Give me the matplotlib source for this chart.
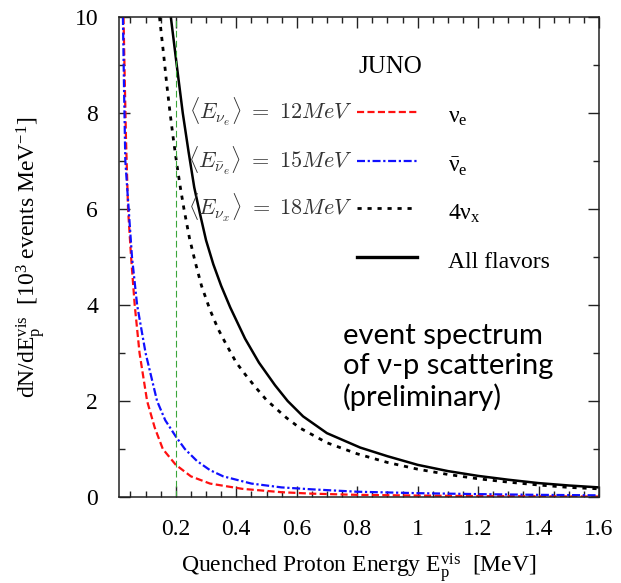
import numpy as np
import matplotlib
matplotlib.use('Agg')
import matplotlib.pyplot as plt
from matplotlib.ticker import MultipleLocator, FuncFormatter

plt.rcParams['font.family'] = ['Liberation Serif', 'DejaVu Serif']
plt.rcParams['mathtext.fontset'] = 'custom'
plt.rcParams['mathtext.rm'] = 'Liberation Serif'
plt.rcParams['mathtext.it'] = 'Liberation Serif:italic'
plt.rcParams['mathtext.bf'] = 'Liberation Serif:bold'

# values (x in MeV, y in 10^3 events / MeV)
x_nue = [0.027, 0.031, 0.035, 0.042, 0.052, 0.064, 0.080, 0.105, 0.130, 0.157,
         0.200, 0.250, 0.313, 0.420, 0.550, 0.650, 0.800, 1.000, 1.200, 1.600]
y_nue = [10.0, 8.7, 7.5, 6.0, 5.0, 4.0, 3.0, 2.0, 1.45, 1.0,
         0.67, 0.43, 0.28, 0.17, 0.10, 0.07, 0.045, 0.03, 0.02, 0.01]

x_nuebar = [0.025, 0.029, 0.033, 0.044, 0.055, 0.072, 0.100, 0.138, 0.165, 0.200,
            0.230, 0.270, 0.313, 0.357, 0.450, 0.550, 0.650, 0.800, 1.000, 1.200,
            1.400, 1.600]
y_nuebar = [10.0, 8.4, 7.0, 6.0, 5.0, 4.0, 3.0, 2.0, 1.6, 1.26,
            1.0, 0.75, 0.56, 0.43, 0.28, 0.20, 0.16, 0.11, 0.08, 0.06,
            0.045, 0.035]

x_nux = [0.146, 0.160, 0.170, 0.181, 0.192, 0.203, 0.215, 0.227, 0.245, 0.264,
         0.285, 0.313, 0.340, 0.365, 0.400, 0.430, 0.462, 0.500, 0.566, 0.610,
         0.700, 0.800, 0.900, 1.000, 1.100, 1.200, 1.300, 1.400, 1.500, 1.600]
y_nux = [10.0, 9.2, 8.6, 8.0, 7.45, 6.95, 6.45, 6.0, 5.4, 4.9,
         4.4, 3.9, 3.5, 3.2, 2.8, 2.55, 2.3, 2.02, 1.65, 1.44,
         1.13, 0.90, 0.72, 0.58, 0.47, 0.38, 0.31, 0.25, 0.20, 0.17]

x_all = [0.1835, 0.203, 0.223, 0.242, 0.261, 0.280, 0.300, 0.324, 0.350, 0.380,
         0.429, 0.475, 0.528, 0.570, 0.621, 0.700, 0.810, 0.900, 1.000, 1.100,
         1.200, 1.300, 1.400, 1.500, 1.600]
y_all = [10.0, 9.0, 8.0, 7.2, 6.45, 5.9, 5.35, 4.85, 4.4, 3.95,
         3.3, 2.8, 2.33, 2.0, 1.68, 1.33, 1.03, 0.85, 0.67, 0.54,
         0.44, 0.36, 0.29, 0.24, 0.20]

cut_energy = 0.2

red_style = dict(color='#ff1010', lw=1.6, ls=(0, (3.2, 1.5)))
blue_style = dict(color='#1010ff', lw=1.6, ls=(0, (3.6, 1.2, 1.0, 1.2)))
dot_style = dict(color='black', lw=2.0, ls=(0, (1.5, 2.1)))
all_style = dict(color='black', lw=1.8, ls='-')

fig = plt.figure(figsize=(6.21, 5.83), dpi=100)
ax = fig.add_axes([0.1916, 0.1475, 0.773, 0.8233])

ax.plot(x_nue, y_nue, **red_style)
ax.plot(x_nuebar, y_nuebar, **blue_style)
ax.plot(x_nux, y_nux, **dot_style)
ax.plot(x_all, y_all, **all_style)
ax.plot([cut_energy, cut_energy], [0, 10], color='#3aa63a', lw=0.8, ls=(0, (6, 3)))

ax.set_xlim(0.012, 1.6)
ax.set_ylim(0, 10)

ax.xaxis.set_major_locator(MultipleLocator(0.2))
ax.xaxis.set_minor_locator(MultipleLocator(0.05))
ax.yaxis.set_major_locator(MultipleLocator(2))
ax.yaxis.set_minor_locator(MultipleLocator(1))
ax.xaxis.set_major_formatter(FuncFormatter(lambda v, p: ('%g' % round(v, 2)) if v > 0.1 else ''))

ax.tick_params(which='both', direction='in', top=True, right=True, colors='#222222',
               labelsize=17, labelcolor='black')
ax.tick_params(which='major', length=8, width=1)
ax.tick_params(which='minor', length=4.5, width=1)
ax.tick_params(axis='x', pad=16)
ax.tick_params(axis='y', pad=15)
for s in ax.spines.values():
    s.set_linewidth(1.1)
    s.set_color('#222222')

ax.set_xlabel(r'Quenched Proton Energy $\mathrm{E_p^{vis}}$  [MeV]', fontsize=17, labelpad=8)
ax.set_ylabel(r'dN/dE$_\mathrm{p}^\mathrm{vis}$  [10$^3$ events MeV$^{-1}$]', fontsize=17, labelpad=19)

# legend drawn by hand
ax.text(0.565, 0.896, 'JUNO', transform=ax.transAxes, fontsize=18, ha='center', va='center')
rows = [
    (0.802, r'$\langle E_{\nu_e}\rangle\ =\ 12 MeV$', red_style, r'$\mathrm{\nu_e}$'),
    (0.700, r'$\langle E_{\bar{\nu}_e}\rangle\ =\ 15 MeV$', blue_style, r'$\mathrm{\bar{\nu}_e}$'),
    (0.602, r'$\langle E_{\nu_x}\rangle\ =\ 18 MeV$', dot_style, r'$\mathrm{4\nu_x}$'),
    (0.500, None, dict(color='black', lw=2.4, ls='-'), 'All flavors'),
]
for yy, mtxt, style, lab in rows:
    if mtxt:
        ax.text(0.487, yy, mtxt, transform=ax.transAxes, fontsize=16, ha='right', va='center',
                color='#333333', math_fontfamily='cm')
    ax.plot([0.496, 0.621], [yy, yy], transform=ax.transAxes, **style)
    ax.text(0.685, yy - 0.012, lab, transform=ax.transAxes, fontsize=17, ha='left', va='center')

ax.text(0.467, 0.271, 'event spectrum\nof ν-p scattering\n(preliminary)', transform=ax.transAxes,
        fontsize=21, ha='left', va='center', linespacing=1.2, family=['Lato', 'DejaVu Sans'])

fig.savefig('out.png', dpi=100)
